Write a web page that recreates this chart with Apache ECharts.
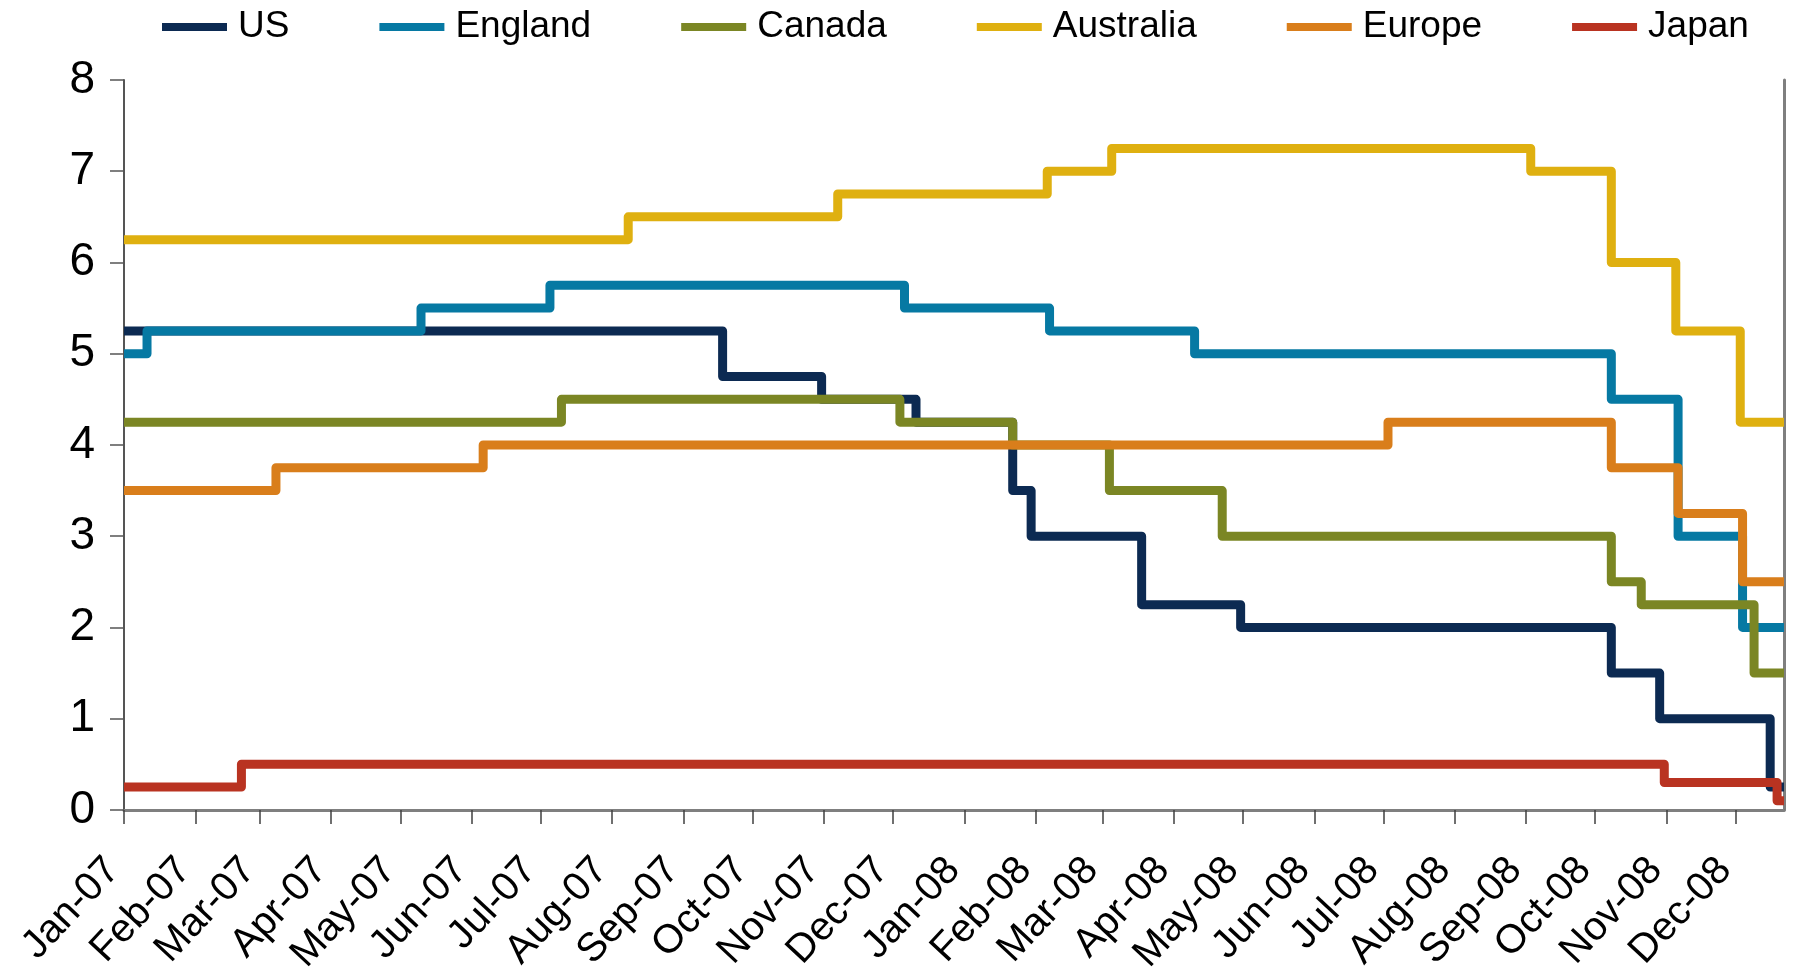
<!DOCTYPE html>
<html>
<head>
<meta charset="utf-8">
<title>Policy rates 2007–2008</title>
<script src="https://cdn.jsdelivr.net/npm/echarts@6/dist/echarts.min.js"></script>
<style>
  html, body { margin: 0; padding: 0; background: #fff; }
  #chart { width: 1795px; height: 977px; }
</style>
</head>
<body>
<div id="chart"></div>
<script>
// Policy rate change points: [effective date, rate %]
const startDate = '2007-01-01';
const endDate = '2008-12-22';

const usRates = [
  ['2007-01-01', 5.25], ['2007-09-18', 4.75], ['2007-10-31', 4.50], ['2007-12-11', 4.25],
  ['2008-01-22', 3.50], ['2008-01-30', 3.00], ['2008-03-18', 2.25], ['2008-04-30', 2.00],
  ['2008-10-08', 1.50], ['2008-10-29', 1.00], ['2008-12-16', 0.25]
];
const englandRates = [
  ['2007-01-01', 5.00], ['2007-01-11', 5.25], ['2007-05-10', 5.50], ['2007-07-05', 5.75],
  ['2007-12-06', 5.50], ['2008-02-07', 5.25], ['2008-04-10', 5.00], ['2008-10-08', 4.50],
  ['2008-11-06', 3.00], ['2008-12-04', 2.00]
];
const canadaRates = [
  ['2007-01-01', 4.25], ['2007-07-10', 4.50], ['2007-12-04', 4.25], ['2008-01-22', 4.00],
  ['2008-03-04', 3.50], ['2008-04-22', 3.00], ['2008-10-08', 2.50], ['2008-10-21', 2.25],
  ['2008-12-09', 1.50]
];
const australiaRates = [
  ['2007-01-01', 6.25], ['2007-08-08', 6.50], ['2007-11-07', 6.75], ['2008-02-06', 7.00],
  ['2008-03-05', 7.25], ['2008-09-03', 7.00], ['2008-10-08', 6.00], ['2008-11-05', 5.25],
  ['2008-12-03', 4.25]
];
const europeRates = [
  ['2007-01-01', 3.50], ['2007-03-08', 3.75], ['2007-06-06', 4.00], ['2008-07-03', 4.25],
  ['2008-10-08', 3.75], ['2008-11-06', 3.25], ['2008-12-04', 2.50]
];
const japanRates = [
  ['2007-01-01', 0.25], ['2007-02-21', 0.50], ['2008-10-31', 0.30], ['2008-12-19', 0.10]
];

const seriesNames = ['US', 'England', 'Canada', 'Australia', 'Europe', 'Japan'];
const seriesRates = [usRates, englandRates, canadaRates, australiaRates, europeRates, japanRates];
const seriesColors = ['#0c2a52', '#0679a3', '#7b8624', '#dfb010', '#d97e1b', '#b93321'];

const monthNames = ['Jan', 'Feb', 'Mar', 'Apr', 'May', 'Jun', 'Jul', 'Aug', 'Sep', 'Oct', 'Nov', 'Dec'];
const yTicks = { min: 0, max: 8, interval: 1 };

const FONT = "'Liberation Sans', Arial, sans-serif";
const DAY = 86400000;

// Hold each rate flat until the end of the plotted period.
function withEnd(rates) {
  const last = rates[rates.length - 1];
  return rates.concat([[endDate, last[1]]]);
}

const chart = echarts.init(document.getElementById('chart'), null, { renderer: 'canvas' });

chart.setOption({
  animation: false,
  backgroundColor: '#ffffff',
  textStyle: { fontFamily: FONT },
  color: seriesColors,
  legend: {
    data: seriesNames,
    left: 162,
    top: 7,
    padding: 0,
    icon: 'rect',
    itemWidth: 65,
    itemHeight: 8,
    itemGap: 90,
    textStyle: { fontSize: 37, color: '#000', fontFamily: FONT, lineHeight: 40, padding: [0, 0, 0, 6] }
  },
  grid: { left: 124, right: 11, top: 80, bottom: 165, containLabel: false },
  xAxis: [{
    type: 'time',
    min: startDate,
    max: endDate,
    splitNumber: 24,
    minInterval: 28 * DAY,
    maxInterval: 31 * DAY,
    axisLine: { lineStyle: { color: '#404040', width: 2 } },
    axisTick: { show: true, length: 14, lineStyle: { color: '#404040', width: 1.5 } },
    splitLine: { show: false },
    axisLabel: {
      rotate: 47,
      margin: 42,
      padding: [0, 16, 0, 0],
      fontSize: 40,
      color: '#000',
      fontFamily: FONT,
      showMaxLabel: false,
      hideOverlap: false,
      formatter: function (val) {
        const d = new Date(val);
        const yy = String(d.getFullYear() % 100).padStart(2, '0');
        return monthNames[d.getMonth()] + '-' + yy;
      }
    }
  }, {
    type: 'time',
    position: 'top',
    min: startDate,
    max: endDate,
    axisLine: { show: true, lineStyle: { color: '#7f7f7f', width: 3 } },
    axisTick: { show: false },
    axisLabel: { show: false },
    splitLine: { show: false }
  }],
  yAxis: [{
    type: 'value',
    min: yTicks.min,
    max: yTicks.max,
    interval: yTicks.interval,
    axisLine: { show: true, lineStyle: { color: '#555555', width: 2 } },
    axisTick: { show: true, length: 14, lineStyle: { color: '#555555', width: 1.5 } },
    splitLine: { show: false },
    axisLabel: { fontSize: 46, color: '#000', margin: 29, fontFamily: FONT }
  }, {
    type: 'value',
    position: 'right',
    min: yTicks.min,
    max: yTicks.max,
    interval: yTicks.interval,
    axisLine: { show: true, lineStyle: { color: '#7f7f7f', width: 3 } },
    axisTick: { show: false },
    axisLabel: { show: false },
    splitLine: { show: false }
  }],
  series: seriesNames.map(function (name, i) {
    return {
      name: name,
      type: 'line',
      step: 'end',
      showSymbol: false,
      symbol: 'none',
      xAxisIndex: 0,
      yAxisIndex: 0,
      data: withEnd(seriesRates[i]),
      itemStyle: { color: seriesColors[i] },
      lineStyle: { color: seriesColors[i], width: 9, join: 'round' },
      emphasis: { disabled: true }
    };
  })
});
</script>
</body>
</html>
